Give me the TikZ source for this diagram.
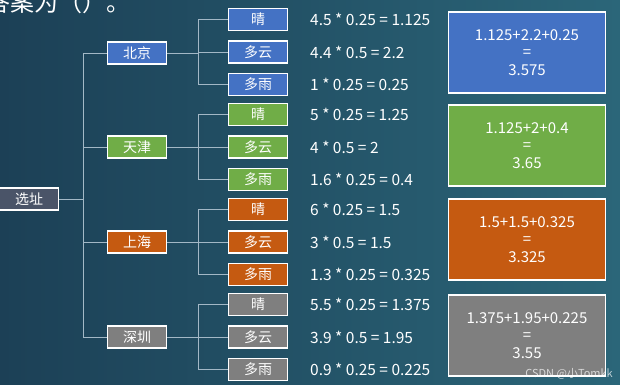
\documentclass[tikz,border=0pt]{standalone}
\usepackage{fontspec}
\setmainfont{Noto Sans CJK SC}
\usetikzlibrary{calc}

\definecolor{bgleft}{HTML}{1C4056}
\definecolor{bgright}{HTML}{2B6679}
\definecolor{linkc}{HTML}{A3B8C6}
\definecolor{rootgray}{HTML}{4A5468}
\definecolor{bjblue}{HTML}{4472C4}
\definecolor{tjgreen}{HTML}{70AD47}
\definecolor{shorange}{HTML}{C55A11}
\definecolor{szgray}{HTML}{7F7F7F}

\tikzset{
    box/.style={rectangle, draw=white, line width=1.6pt, text=white, inner sep=0pt,
        minimum width=59pt, minimum height=22pt, font=\fontsize{14}{16}\selectfont},
    root/.style={box, fill=rootgray},
    city/.style={box},
    wx/.style={box},
    prod/.style={anchor=west, text=white, inner sep=0pt, font=\fontsize{15.5}{17}\selectfont},
    total/.style={rectangle, draw=white, line width=1.8pt, text=white, align=center,
        minimum width=157pt, minimum height=81pt, font=\fontsize{15}{17.5}\selectfont},
    link/.style={draw=linkc, line width=0.9pt}
}

%% #1 city node, #2 y of city, #3 fill, #4-#6 products
\newcommand{\wxgroup}[6]{%
    \node[wx, fill=#3] (#1q) at (258, #2-32.5) {晴};
    \node[wx, fill=#3] (#1y) at (258, #2)      {多云};
    \node[wx, fill=#3] (#1r) at (258, #2+32.5) {多雨};
    \node[prod] (#1qf) at (310, #2-32.5) {#4};
    \node[prod] (#1yf) at (310, #2)      {#5};
    \node[prod] (#1rf) at (310, #2+32.5) {#6};
    \draw[link] (#1.east) -- (#1.east -| br);
    \draw[link] (br |- #1q.west) -- (br |- #1r.west);
    \draw[link] (br |- #1q.west) -- (#1q.west);
    \draw[link] (br |- #1y.west) -- (#1y.west);
    \draw[link] (br |- #1r.west) -- (#1r.west);
}

\begin{document}
\begin{tikzpicture}[x=1pt, y=-1pt]
%% LAYOUT (pixels, y down):
%% x= 29: root    x=137: cities   x=258: weather
%% x=310: products                x=527: totals
\useasboundingbox (0,0) rectangle (620,384);
\clip (0,0) rectangle (620,384);
\fill[left color=bgleft, right color=bgright] (0,0) rectangle (620,384);

%% title line, cut by the top edge
\node[anchor=base west, text=white, inner sep=0pt, font=\fontsize{24}{24}\selectfont]
    (title) at (-14,11) {答案为（）。};

\coordinate (tk) at (83,0);
\coordinate (br) at (198,0);

%% ── ROOT + CITIES ───────────────────────────────────────────────
\node[root] (xz) at (29,199) {选址};
\node[city, fill=bjblue]   (bj) at (137, 53)  {北京};
\node[city, fill=tjgreen]  (tj) at (137, 147) {天津};
\node[city, fill=shorange] (sh) at (137, 242) {上海};
\node[city, fill=szgray]   (sz) at (137, 337) {深圳};

\draw[link] (xz.east) -- (xz.east -| tk);
\draw[link] (tk |- bj.west) -- (tk |- sz.west);
\draw[link] (tk |- bj.west) -- (bj.west);
\draw[link] (tk |- tj.west) -- (tj.west);
\draw[link] (tk |- sh.west) -- (sh.west);
\draw[link] (tk |- sz.west) -- (sz.west);

%% ── WEATHER + PRODUCTS ──────────────────────────────────────────
\wxgroup{bj}{52}{bjblue}{4.5 * 0.25 = 1.125}{4.4 * 0.5 = 2.2}{1 * 0.25 = 0.25}
\wxgroup{tj}{147}{tjgreen}{5 * 0.25 = 1.25}{4 * 0.5 = 2}{1.6 * 0.25 = 0.4}
\wxgroup{sh}{242}{shorange}{6 * 0.25 = 1.5}{3 * 0.5 = 1.5}{1.3 * 0.25 = 0.325}
\wxgroup{sz}{337}{szgray}{5.5 * 0.25 = 1.375}{3.9 * 0.5 = 1.95}{0.9 * 0.25 = 0.225}

%% ── TOTALS ──────────────────────────────────────────────────────
\node[total, fill=bjblue]   (bjsum) at (527, 52.5)  {1.125+2.2+0.25\\=\\3.575};
\node[total, fill=tjgreen]  (tjsum) at (527, 145.5) {1.125+2+0.4\\=\\3.65};
\node[total, fill=shorange] (shsum) at (527, 239.5) {1.5+1.5+0.325\\=\\3.325};
\node[total, fill=szgray]   (szsum) at (527, 335.5) {1.375+1.95+0.225\\=\\3.55};

\node[anchor=east, text=white, opacity=0.7, inner sep=0pt, font=\fontsize{11}{11}\selectfont]
    (wm) at (613,374) {CSDN @小Tomkk};

\end{tikzpicture}
\end{document}
